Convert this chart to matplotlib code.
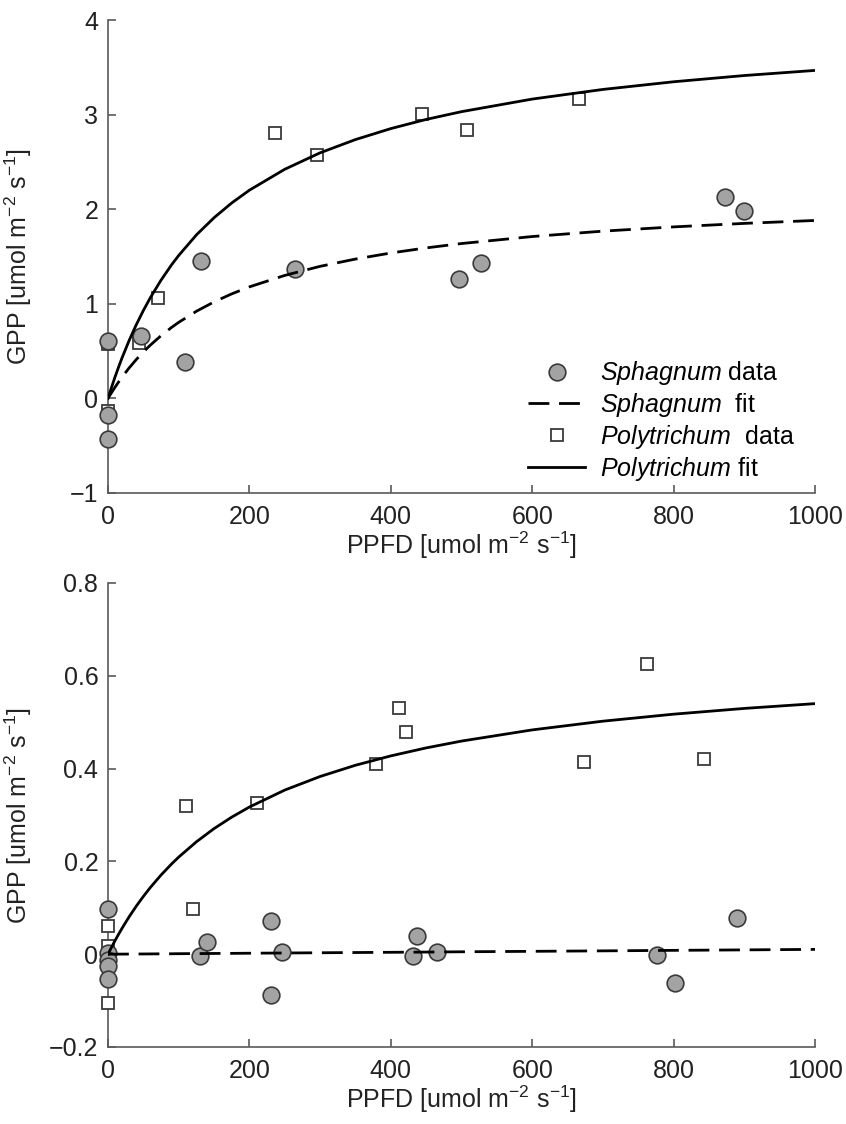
import matplotlib
matplotlib.use("Agg")
import matplotlib.pyplot as plt
from matplotlib.ticker import FuncFormatter

plt.rcParams['font.family'] = ['Liberation Sans', 'DejaVu Sans']
plt.rcParams['mathtext.fontset'] = 'custom'
plt.rcParams['mathtext.rm'] = 'Liberation Sans'
plt.rcParams['mathtext.it'] = 'Liberation Sans:italic'
plt.rcParams['mathtext.bf'] = 'Liberation Sans:bold'
plt.rcParams['axes.unicode_minus'] = True

# ---------------- data: top panel ----------------
top_sph_x = [0, 0, 0, 47, 109, 132, 265, 496, 527, 873, 899]
top_sph_y = [0.61, -0.18, -0.43, 0.66, 0.38, 1.45, 1.37, 1.26, 1.43, 2.13, 1.98]
top_pol_x = [0, 0, 44, 71, 236, 296, 444, 508, 666]
top_pol_y = [0.57, -0.13, 0.59, 1.06, 2.81, 2.57, 3.01, 2.84, 3.165]

fit_x = [0, 2, 5, 10, 15, 20, 30, 40, 50, 60, 75, 90, 100, 125, 150, 175, 200,
         250, 300, 350, 400, 450, 500, 600, 700, 800, 900, 1000]
top_sph_fit = [0, 0.025, 0.061, 0.119, 0.174, 0.227, 0.323, 0.411, 0.491, 0.564, 0.663,
               0.751, 0.804, 0.921, 1.020, 1.105, 1.179, 1.300, 1.396, 1.473, 1.537,
               1.591, 1.637, 1.711, 1.768, 1.813, 1.850, 1.881]
top_pol_fit = [0, 0.048, 0.117, 0.228, 0.332, 0.431, 0.614, 0.779, 0.929, 1.066, 1.250,
               1.413, 1.511, 1.728, 1.910, 2.066, 2.201, 2.422, 2.596, 2.736, 2.852,
               2.949, 3.031, 3.164, 3.266, 3.347, 3.413, 3.467]

# ---------------- data: bottom panel ----------------
bot_sph_x = [0, 0, 0, 0, 0, 130, 140, 230, 230, 246, 431, 437, 466, 777, 802, 890]
bot_sph_y = [0.097, 0.002, -0.012, -0.025, -0.053, -0.004, 0.026, 0.072, -0.087, 0.005,
             -0.003, 0.040, 0.005, -0.002, -0.063, 0.078]
bot_pol_x = [0, 0, 0, 0, 0, 110, 120, 211, 379, 411, 422, 673, 762, 843]
bot_pol_y = [0.060, 0.017, -0.003, -0.015, -0.105, 0.320, 0.098, 0.326, 0.410, 0.530,
             0.478, 0.415, 0.625, 0.420]
bot_sph_fit = [0, 0.0000, 0.0001, 0.0001, 0.0002, 0.0002, 0.0003, 0.0004, 0.0005, 0.0006,
               0.0008, 0.0009, 0.0011, 0.0013, 0.0016, 0.0018, 0.0021, 0.0026, 0.0031,
               0.0036, 0.0041, 0.0046, 0.0052, 0.0062, 0.0072, 0.0083, 0.0093, 0.0104]
bot_pol_fit = [0, 0.0061, 0.0150, 0.0294, 0.0431, 0.0562, 0.0809, 0.1036, 0.1245, 0.1440,
               0.1706, 0.1946, 0.2093, 0.2422, 0.2707, 0.2954, 0.3172, 0.3537, 0.3830,
               0.4072, 0.4274, 0.4446, 0.4593, 0.4834, 0.5022, 0.5173, 0.5297, 0.5400]

x_ticks = [0, 200, 400, 600, 800, 1000]
top_yticks = [-1, 0, 1, 2, 3, 4]
bot_yticks = [-0.2, 0, 0.2, 0.4, 0.6, 0.8]

FS = 18
spine_c = '#5a5a5a'
circ_face = '#a3a3a3'
edge_c = '#3a3a3a'
text_c = '#222222'

fig = plt.figure(figsize=(8.46, 11.24), dpi=100)
W, H = 846, 1124
ax1 = fig.add_axes([108 / W, 1 - 493 / H, 707 / W, 473 / H])
ax2 = fig.add_axes([108 / W, 1 - 1047 / H, 707 / W, 464 / H])


def fmt(v, pos):
    s = '%g' % v
    return s.replace('-', '\u2212')


def style(ax, ylim, yticks):
    ax.set_xlim(0, 1000)
    ax.set_ylim(*ylim)
    ax.set_xticks(x_ticks)
    ax.set_yticks(yticks)
    ax.xaxis.set_major_formatter(FuncFormatter(fmt))
    ax.yaxis.set_major_formatter(FuncFormatter(fmt))
    for s in ['top', 'right']:
        ax.spines[s].set_visible(False)
    for s in ['left', 'bottom']:
        ax.spines[s].set_color(spine_c)
        ax.spines[s].set_linewidth(1.2)
    ax.tick_params(axis='both', direction='in', length=6, width=1.2, color=spine_c,
                   labelsize=FS, labelcolor=text_c)
    ax.tick_params(axis='x', pad=9)
    ax.tick_params(axis='y', pad=7)
    ax.set_xlabel(r'PPFD [umol m$^{-2}$ s$^{-1}$]', fontsize=FS, color=text_c, labelpad=0)
    ax.set_ylabel(r'GPP [umol m$^{-2}$ s$^{-1}$]', fontsize=FS, color=text_c)
    ax.yaxis.set_label_coords(-0.105, 0.5)


for ax, sx, sy, px, py, sf, pf, ylim, yt in [
        (ax1, top_sph_x, top_sph_y, top_pol_x, top_pol_y, top_sph_fit, top_pol_fit, (-1, 4), top_yticks),
        (ax2, bot_sph_x, bot_sph_y, bot_pol_x, bot_pol_y, bot_sph_fit, bot_pol_fit, (-0.2, 0.8), bot_yticks)]:
    style(ax, ylim, yt)
    ax.plot(px, py, linestyle='none', marker='s', markersize=9, markerfacecolor='white',
            markeredgecolor=edge_c, markeredgewidth=1.3, clip_on=False, zorder=3,
            label=r'$\it{Polytrichum}$  data')
    ax.plot(sx, sy, linestyle='none', marker='o', markersize=12, markerfacecolor=circ_face,
            markeredgecolor=edge_c, markeredgewidth=1.2, clip_on=False, zorder=4,
            label=r'$\it{Sphagnum}$ data')
    ax.plot(fit_x, sf, color='black', linewidth=2.0, dashes=(7.5, 3.5), zorder=5,
            label=r'$\it{Sphagnum}$  fit')
    ax.plot(fit_x, pf, color='black', linewidth=2.0, zorder=5,
            label=r'$\it{Polytrichum}$ fit')

h, l = ax1.get_legend_handles_labels()
order = [1, 2, 0, 3]
leg = ax1.legend([h[i] for i in order], [l[i] for i in order], loc='lower left',
                 bbox_to_anchor=(0.594, 0.022), frameon=False, fontsize=FS,
                 handlelength=2.3, handletextpad=0.6, labelspacing=0.15,
                 borderpad=0, borderaxespad=0)

fig.savefig('out.png', dpi=100)
